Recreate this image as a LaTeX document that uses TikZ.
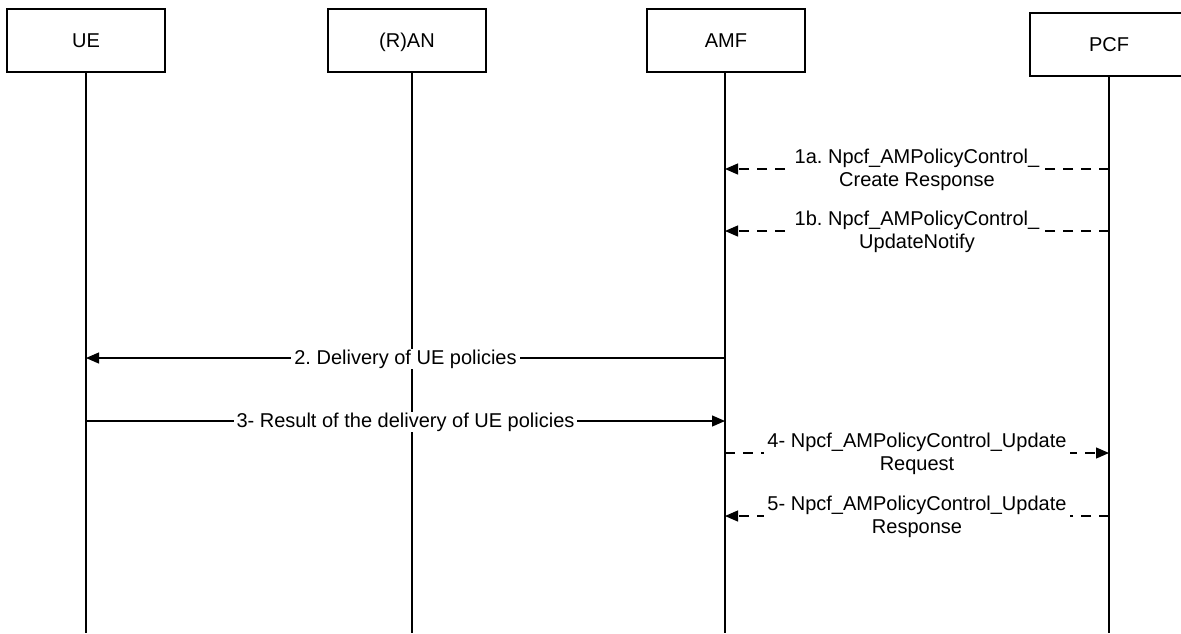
\documentclass[tikz,border=0pt]{standalone}
\usepackage{fontspec}
\setmainfont{Liberation Sans}
\usetikzlibrary{arrows.meta}
\frenchspacing
\begin{document}
\begin{tikzpicture}[x=1pt,y=-1pt,
  ent/.style={draw, line width=1.3pt, minimum width=158pt, minimum height=63pt, inner sep=0pt, text height=14.3pt, text depth=0pt, font=\fontsize{20}{23}\selectfont},
  life/.style={line width=1.3pt},
  msg/.style={line width=1.2pt, -{Triangle[length=13pt,width=11pt]}},
  dmsg/.style={msg, dash pattern=on 10pt off 8pt},
  lbl/.style={fill=white, inner xsep=3pt, inner ysep=1pt, font=\fontsize{20}{23}\selectfont, align=center, anchor=base}
]
\clip (0,0) rectangle (1181,633);
% entities
\node[ent] (ue)  at (86,40.5)   {UE};
\node[ent] (ran) at (407,40.5)  {(R)AN};
\node[ent] (amf) at (726,40.5)  {AMF};
\node[ent] (pcf) at (1109,44.5) {PCF};
% lifeline ends
\coordinate (ueB)  at (86,633);
\coordinate (ranB) at (412,633);
\coordinate (amfB) at (725,633);
\coordinate (pcfB) at (1109,633);
\draw[life] (ue.south -| ueB) -- (ueB);
\draw[life] (ran.south -| ranB) -- (ranB);
\draw[life] (amf.south -| amfB) -- (amfB);
\draw[life] (pcf.south -| pcfB) -- (pcfB);
% message points
\coordinate (p1a) at (1109,169); \coordinate (a1a) at (725,169);
\coordinate (p1b) at (1109,231); \coordinate (a1b) at (725,231);
\coordinate (a2)  at (725,358);  \coordinate (u2)  at (86,358);
\coordinate (u3)  at (86,421);   \coordinate (a3)  at (725,421);
\coordinate (a4)  at (725,453);  \coordinate (p4)  at (1109,453);
\coordinate (p5)  at (1109,516); \coordinate (a5)  at (725,516);
% messages
\draw[dmsg] (p1a) -- node[lbl, yshift=-17pt] (l1a) {1a. Npcf\_AMPolicyControl\_\\Create Response} (a1a);
\draw[dmsg] (p1b) -- node[lbl, yshift=-17pt] (l1b) {1b. Npcf\_AMPolicyControl\_\\UpdateNotify} (a1b);
\draw[msg] (a2) -- node[lbl, yshift=-6pt] (l2) {2. Delivery of UE policies} (u2);
\draw[msg] (u3) -- node[lbl, yshift=-6pt] (l3) {3- Result of the delivery of UE policies} (a3);
\draw[dmsg] (a4) -- node[lbl, yshift=-17pt] (l4) {4- Npcf\_AMPolicyControl\_Update\\Request} (p4);
\draw[dmsg] (p5) -- node[lbl, yshift=-17pt] (l5) {5- Npcf\_AMPolicyControl\_Update\\Response} (a5);
\end{tikzpicture}
\end{document}
